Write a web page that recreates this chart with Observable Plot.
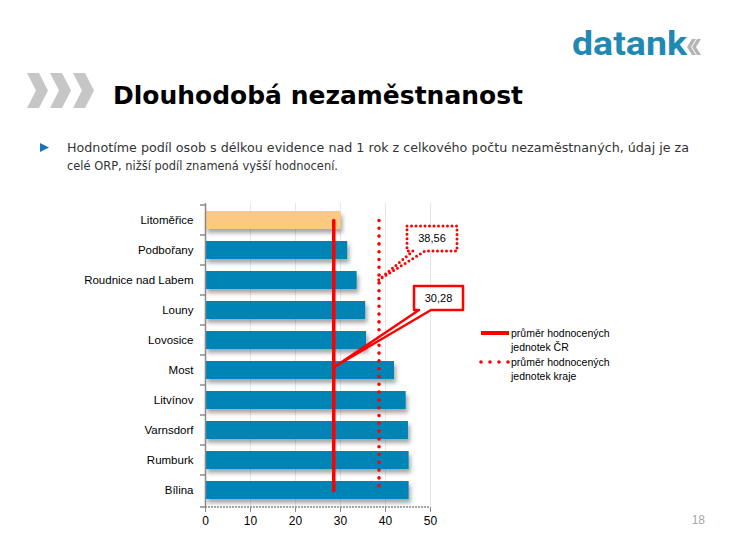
<!DOCTYPE html>
<html><head><meta charset="utf-8">
<script src="https://cdn.jsdelivr.net/npm/d3@7"></script>
<script src="https://cdn.jsdelivr.net/npm/@observablehq/plot@0.6"></script>
<style>
body{margin:0;background:#fff;}
#page{position:relative;width:748px;height:537px;overflow:hidden;}
#page > svg{position:absolute;left:0;top:0;}
</style></head><body><div id="page"></div>
<script>
// ---- data ----
const categories = ["Litoměřice","Podbořany","Roudnice nad Labem","Louny","Lovosice","Most","Litvínov","Varnsdorf","Rumburk","Bílina"];
const values = [30.1, 31.6, 33.7, 35.6, 35.8, 42.0, 44.6, 45.1, 45.25, 45.25];
const highlighted = "Litoměřice";
const crAverage = 28.5;          // position of the solid line as drawn
const crAverageLabel = "30,28";
const krajAverage = 38.56;
const krajAverageLabel = "38,56";
const xTicks = [0, 10, 20, 30, 40, 50];
const legendCR = ["průměr hodnocených", "jednotek ČR"];
const legendKraj = ["průměr hodnocených", "jednotek kraje"];
const titleText = "Dlouhodobá nezaměstnanost";
const bodyLines = ["Hodnotíme podíl osob s délkou evidence nad 1 rok z celkového počtu nezaměstnaných, údaj je za",
                   "celé ORP, nižší podíl znamená vyšší hodnocení."];
const logoText = "datank";
const pageNumber = "18";

const data = categories.map((c, i) => ({name: c, value: values[i]}));
const crLine = [{x: crAverage, y: categories[0]}, {x: crAverage, y: categories[categories.length - 1]}];
const krajLine = [{x: krajAverage, y: categories[0]}, {x: krajAverage, y: categories[categories.length - 1]}];

const chart = Plot.plot({
  width: 748, height: 537,
  marginLeft: 205, marginRight: 318, marginTop: 203, marginBottom: 30,
  style: {fontFamily: "'Liberation Sans', sans-serif", background: "transparent", overflow: "visible", color: "#000"},
  x: {domain: [0, 50], label: null},
  y: {domain: categories, paddingInner: 0.4, paddingOuter: 0.2, label: null},
  color: {type: "identity"},
  marks: [
    Plot.gridX(xTicks.slice(1), {stroke: "#e8e8e8", strokeOpacity: 1}),
    Plot.barX(data, {x: "value", y: "name", fill: d => d.name === highlighted ? "#fbc97f" : "#0083b5"}),
    Plot.line(crLine, {x: "x", y: "y", stroke: "#ff0000", strokeWidth: 3.5, strokeLinecap: "round"}),
    Plot.line(krajLine, {x: "x", y: "y", stroke: "#ff0000", strokeWidth: 3.6, strokeDasharray: "0 7.8", strokeLinecap: "round"}),
    Plot.ruleX([0], {stroke: "#8a8a8a", strokeWidth: 1.5}),
    Plot.axisX(xTicks, {tickSize: 5, tickPadding: 4, fontSize: 12, stroke: "#8a8a8a", fill: "#000"}),
    Plot.axisY({tickSize: 0, tickPadding: 12, fontSize: 11.5, fill: "#000"})
  ]
});

const svg = d3.select(chart);
const xs = chart.scale("x"), ys = chart.scale("y");
const yTop = ys.range[0], yBot = ys.range[1];
const gap = ys.step - ys.bandwidth;
const yc = v => ys.apply(v) + ys.bandwidth / 2;

// shadow on bars
const defs = svg.insert("defs", ":first-child");
const f = defs.append("filter").attr("id", "sh").attr("x", "-5%").attr("y", "-30%").attr("width", "115%").attr("height", "190%");
f.append("feDropShadow").attr("dx", 2).attr("dy", 4).attr("stdDeviation", 2).attr("flood-color", "#000").attr("flood-opacity", 0.35);
svg.select("g[aria-label=bar]").attr("filter", "url(#sh)");

const ov = svg.append("g").attr("text-anchor", "start");
// bottom axis line
ov.append("line").attr("x1", xs.range[0]).attr("x2", xs.range[1]).attr("y1", yBot).attr("y2", yBot)
  .attr("stroke", "#8a8a8a").attr("stroke-width", 1.5).attr("stroke-dasharray", "2 1");
// category boundary ticks on y axis
const bounds = categories.map(c => ys.apply(c) - gap / 2).concat([yBot]);
ov.selectAll("line.yt").data(bounds).join("line").attr("class", "yt")
  .attr("x1", xs.apply(0) - 5).attr("x2", xs.apply(0)).attr("y1", d => d).attr("y2", d => d)
  .attr("stroke", "#8a8a8a").attr("stroke-width", 1.5);

// callouts
function callout(ax, ay, bx, by, bw, bh, wl, wr, label, dotted) {
  const p = `M${bx},${by}H${bx + bw}V${by + bh}H${bx + wr}L${ax},${ay}L${bx + wl},${by + bh}H${bx}Z`;
  const path = ov.append("path").attr("d", p).attr("fill", "#fff").attr("stroke", "#ff0000")
    .attr("stroke-linejoin", "round");
  if (dotted) path.attr("stroke-width", 3).attr("stroke-dasharray", "0 4.5").attr("stroke-linecap", "round");
  else path.attr("stroke-width", 2.5);
  ov.append("text").attr("x", bx + bw / 2).attr("y", by + bh / 2).attr("dy", "0.35em")
    .attr("text-anchor", "middle").attr("font-family", "'Liberation Sans', sans-serif").attr("font-size", 11)
    .text(label);
}
callout(xs.apply(krajAverage), yc("Roudnice nad Labem"), 407, 226, 50, 25, 6, 18, krajAverageLabel, true);
callout(xs.apply(crAverage) + 1, yc("Most") - 3, 414, 286, 49, 24, 5, 17, crAverageLabel, false);

// legend
const lg = ov.append("g").attr("font-family", "'Liberation Sans', sans-serif").attr("font-size", 10.5).attr("fill", "#000");
lg.append("line").attr("x1", 481).attr("x2", 509).attr("y1", 333).attr("y2", 333).attr("stroke", "#ff0000").attr("stroke-width", 4);
lg.append("line").attr("x1", 481).attr("x2", 509).attr("y1", 362).attr("y2", 362).attr("stroke", "#ff0000")
  .attr("stroke-width", 3.6).attr("stroke-dasharray", "0 9").attr("stroke-linecap", "round");
[[legendCR[0], 333], [legendCR[1], 347], [legendKraj[0], 362], [legendKraj[1], 376]].forEach(([t, y]) =>
  lg.append("text").attr("x", 511).attr("y", y).attr("dy", "0.35em").text(t));

// header
const hd = ov.append("g");
hd.append("text").attr("x", 572).attr("y", 55).attr("font-family", "Roboto, sans-serif").attr("font-weight", 700)
  .attr("font-size", 34).attr("fill", "#1f89b4").attr("textLength", 115).attr("lengthAdjust", "spacingAndGlyphs").text(logoText);
[687, 692].forEach(x0 => hd.append("polygon")
  .attr("points", `${x0 + 5},39 ${x0 + 9},39 ${x0 + 4},47 ${x0 + 9},55 ${x0 + 5},55 ${x0},47`).attr("fill", "#b4b4b4"));
[27, 50, 73].forEach(x0 => hd.append("polygon")
  .attr("points", `${x0},73 ${x0 + 12},73 ${x0 + 21},90.5 ${x0 + 12},108 ${x0},108 ${x0 + 9},90.5`).attr("fill", "#c6c6c6"));
hd.append("text").attr("x", 113).attr("y", 104).attr("font-family", "'DejaVu Sans', sans-serif").attr("font-weight", 700)
  .attr("font-size", 25).attr("fill", "#000").attr("textLength", 410).attr("lengthAdjust", "spacingAndGlyphs").text(titleText);
hd.append("polygon").attr("points", "40,143 49,147.5 40,152").attr("fill", "#1a73b8");
hd.append("text").attr("x", 67).attr("y", 152).attr("font-family", "'DejaVu Sans', sans-serif").attr("font-size", 11.5)
  .attr("fill", "#333").attr("textLength", 622).attr("lengthAdjust", "spacingAndGlyphs").text(bodyLines[0]);
hd.append("text").attr("x", 67).attr("y", 170).attr("font-family", "'DejaVu Sans', sans-serif").attr("font-size", 11.5)
  .attr("fill", "#333").attr("textLength", 271).attr("lengthAdjust", "spacingAndGlyphs").text(bodyLines[1]);
hd.append("text").attr("x", 705).attr("y", 524).attr("text-anchor", "end").attr("font-family", "'Liberation Sans', sans-serif")
  .attr("font-size", 12).attr("fill", "#a6a6a6").text(pageNumber);

document.getElementById("page").appendChild(chart);
</script></body></html>
